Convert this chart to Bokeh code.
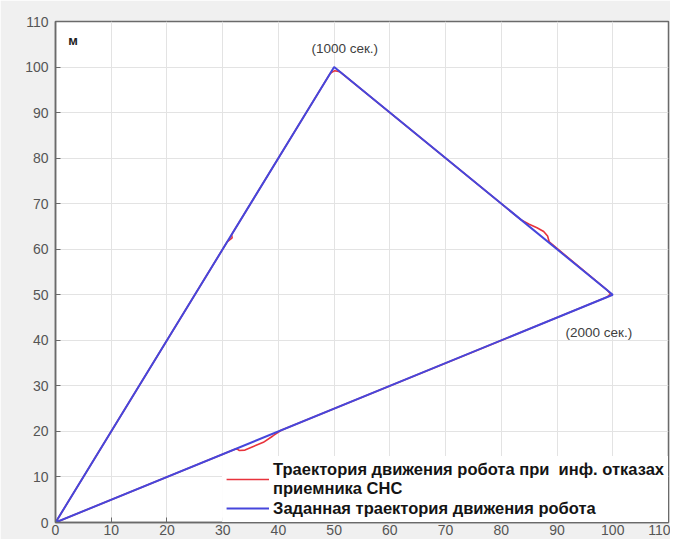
from bokeh.plotting import figure
from bokeh.models import Range1d, FixedTicker, Legend, LegendItem, Label
from bokeh.embed import file_html
from bokeh.resources import INLINE

# Data
ticks = list(range(0, 111, 10))
blue_x = [0, 50, 100, 0]
blue_y = [0, 100, 50, 0]
red_x = [0, 30.8, 31.7, 31.6, 49.3, 50.1, 51.0, 83.5, 85.0, 86.4, 87.6, 88.3, 88.6,
         99.0, 99.6, 99.0, 40.5, 39.0, 37.3, 35.5, 34.0, 33.0, 32.6, 32.2, 0]
red_y = [0, 61.6, 62.5, 63.2, 98.6, 99.2, 99.0, 66.5, 65.5, 64.7, 63.9, 62.9, 61.6,
         51.0, 50.2, 49.5, 20.25, 19.0, 17.6, 16.7, 15.9, 15.8, 16.1, 16.1, 0]
label_red = "Траектория движения робота при  инф. отказах\nприемника СНС"
label_blue = "Заданная траектория движения робота"
note1 = "(1000 сек.)"
note2 = "(2000 сек.)"

p = figure(width=670, height=539, output_backend="svg", toolbar_location=None,
           x_range=Range1d(0, 110), y_range=Range1d(0, 110),
           min_border_left=55, min_border_right=2, min_border_top=21, min_border_bottom=17)
p.border_fill_color = "#f0f0f0"
p.background_fill_color = "white"
p.outline_line_color = "#6a6a6a"
p.outline_line_width = 1.5

for ax in [p.xaxis[0], p.yaxis[0]]:
    ax.ticker = FixedTicker(ticks=ticks)
    ax.major_tick_in = 5
    ax.major_tick_out = 0
    ax.minor_tick_in = 0
    ax.minor_tick_out = 0
    ax.axis_line_color = "#6a6a6a"
    ax.axis_line_width = 1.5
    ax.major_tick_line_color = "#6a6a6a"
    ax.major_label_text_font = "Liberation Sans"
    ax.major_label_text_font_size = "14px"
    ax.major_label_text_color = "#555555"
p.xaxis.major_label_standoff = 2
p.yaxis.major_label_standoff = 7

p.xgrid.ticker = FixedTicker(ticks=ticks)
p.ygrid.ticker = FixedTicker(ticks=ticks)
p.xgrid.grid_line_color = "#e3e3e3"
p.ygrid.grid_line_color = "#e3e3e3"

r_red = p.line(red_x, red_y, line_color="#e8333c", line_width=1.6)
r_blue = p.line(blue_x, blue_y, line_color="#4646dc", line_width=2)

legend = Legend(items=[LegendItem(label=label_red, renderers=[r_red]),
                       LegendItem(label=label_blue, renderers=[r_blue])],
                location="bottom_right", margin=0, padding=4, spacing=0,
                glyph_width=43, label_standoff=4,
                label_text_font="Liberation Sans", label_text_font_size="16.5px",
                label_text_font_style="bold", label_text_color="#141414",
                label_text_line_height=1.28,
                border_line_alpha=0, background_fill_alpha=1.0)
p.add_layout(legend)

for x, y, t in [(2.3, 105.8, "м"), (106.0, 3.5, "м")]:
    p.add_layout(Label(x=x, y=y, text=t, text_font="Liberation Sans", text_font_size="13px",
                       text_font_style="bold", text_color="#222222",
                       text_align="left", text_baseline="middle"))
for x, y, t in [(51.9, 104.0, note1), (97.5, 41.7, note2)]:
    p.add_layout(Label(x=x, y=y, text=t, text_font="Liberation Sans", text_font_size="13.5px",
                       text_color="#404040", text_align="center", text_baseline="middle"))

open("out.html", "w").write(file_html(p, INLINE))
